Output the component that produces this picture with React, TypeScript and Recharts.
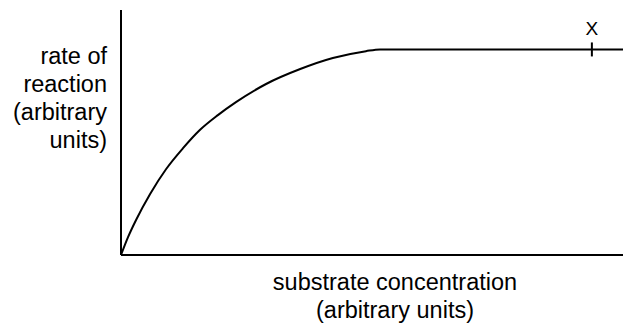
import React from "react";
import { LineChart, Line, XAxis, YAxis, ReferenceDot } from "recharts";

// values (arbitrary units, 0-100 on both axes)
const concentration = [0, 1.4, 3.0, 5.8, 9.0, 12.4, 15.7, 19.3, 22.9, 28.9, 35.7, 42.2, 48.8, 51.6, 100];
const rate = [0, 7.3, 14.3, 24.9, 35.1, 43.7, 51.0, 57.1, 62.4, 69.8, 75.9, 80.4, 83.2, 83.9, 83.9];
const yLabelLines = ["rate of", "reaction", "(arbitrary", "units)"];
const xLabelLines = ["substrate concentration", "(arbitrary units)"];
const markX = 93.8;
const markY = 83.9;
const markLabel = "X";

const FONT = '"Liberation Sans", Arial, sans-serif';

const data = concentration.map((c, i) => ({ c, rate: rate[i] }));

// multi-line y label, right aligned next to the axis
const YLabel = (props: any) => {
  const vb = props.viewBox || {};
  const right = vb.x + vb.width - 14;
  return (
    <text x={right} y={vb.y + 54} textAnchor="end" fontFamily={FONT} fontSize={23.5} fill="#000">
      {yLabelLines.map((line, i) => (
        <tspan key={i} x={right} dy={i === 0 ? 0 : 28}>
          {line}
        </tspan>
      ))}
    </text>
  );
};

const XLabel = (props: any) => {
  const vb = props.viewBox || {};
  const cx = vb.x + 274;
  return (
    <text x={cx} y={vb.y + 35} textAnchor="middle" fontFamily={FONT} fontSize={23.5} fill="#000">
      {xLabelLines.map((line, i) => (
        <tspan key={i} x={cx} dy={i === 0 ? 0 : 28}>
          {line}
        </tspan>
      ))}
    </text>
  );
};

// small vertical tick on the plateau with the "X" above it
const Mark = (props: any) => {
  const { cx, cy } = props;
  return (
    <g>
      <line x1={cx} x2={cx} y1={cy - 7} y2={cy + 7} stroke="#000" strokeWidth={2} />
      <text x={cx} y={cy - 14} textAnchor="middle" fontFamily={FONT} fontSize={19} fill="#000">
        {markLabel}
      </text>
    </g>
  );
};

export default function App() {
  return (
    <div style={{ position: "absolute", left: 0, top: 0, background: "#fff" }}>
      <LineChart width={623} height={325} data={data} margin={{ top: 10, right: 0, bottom: 0, left: 0 }}>
        <XAxis
          dataKey="c"
          type="number"
          domain={[0, 100]}
          tick={false}
          tickLine={false}
          height={70}
          axisLine={{ stroke: "#000", strokeWidth: 2 }}
          label={<XLabel />}
        />
        <YAxis
          type="number"
          domain={[0, 100]}
          tick={false}
          tickLine={false}
          width={121}
          axisLine={{ stroke: "#000", strokeWidth: 2 }}
          label={<YLabel />}
        />
        <Line
          type="monotone"
          dataKey="rate"
          stroke="#000"
          strokeWidth={2}
          dot={false}
          isAnimationActive={false}
        />
        <ReferenceDot x={markX} y={markY} shape={<Mark />} />
      </LineChart>
    </div>
  );
}
